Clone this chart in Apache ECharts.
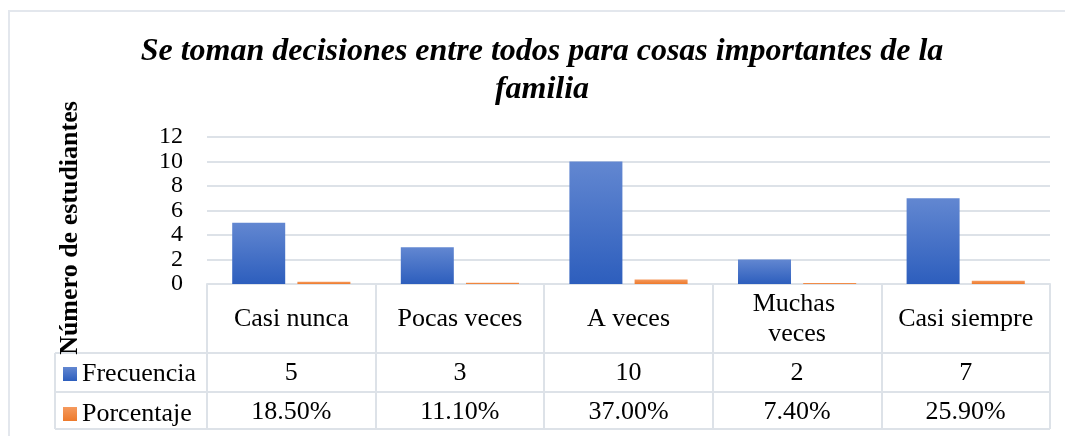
<!DOCTYPE html>
<html>
<head>
<meta charset="utf-8">
<script src="https://cdn.jsdelivr.net/npm/echarts@6/dist/echarts.min.js"></script>
<style>
  html, body { margin: 0; padding: 0; background: #fff; }
  #chart { width: 1065px; height: 436px; }
</style>
</head>
<body>
<div id="chart"></div>
<script>
// datos
const categorias = ['Casi nunca', 'Pocas veces', 'A veces', 'Muchas veces', 'Casi siempre']
const frecuencia = [5, 3, 10, 2, 7]
const porcentaje = [0.185, 0.111, 0.37, 0.074, 0.259]
const ticksY = [0, 2, 4, 6, 8, 10, 12]

const FONT = '"Liberation Serif", "Times New Roman", serif'
const LINE = '#dde2e8'

// geometria de la tabla
const gridLeft = 207, gridRight = 1050, gridTop = 137, gridBottom = 284
const tableLeft = 55
const rowLines = [353, 392, 429]

const azul = new echarts.graphic.LinearGradient(0, 0, 0, 1, [
    { offset: 0, color: '#6287d1' },
    { offset: 1, color: '#2d5ebd' }
])
const naranja = new echarts.graphic.LinearGradient(0, 0, 0, 1, [
    { offset: 0, color: '#f59a5e' },
    { offset: 1, color: '#ed7a2c' }
])

const myChart = echarts.init(document.getElementById('chart'))

const lineasTabla = rowLines.map(y => ({
    type: 'line',
    shape: { x1: tableLeft, y1: y, x2: gridRight, y2: y },
    style: { stroke: LINE, lineWidth: 2 }
}))
lineasTabla.push({
    type: 'line',
    shape: { x1: tableLeft, y1: rowLines[0], x2: tableLeft, y2: rowLines[2] },
    style: { stroke: LINE, lineWidth: 2 }
})
// marco exterior
lineasTabla.push({
    type: 'rect',
    shape: { x: 9, y: 11, width: 1100, height: 460 },
    style: { fill: null, stroke: '#e3e7ed', lineWidth: 2 },
    z: -1
})

const option = {
    animation: false,
    backgroundColor: '#fff',
    title: {
        text: 'Se toman decisiones entre todos para cosas importantes de la\nfamilia',
        left: 537,
        top: 28,
        textAlign: 'center',
        textStyle: {
            fontFamily: FONT,
            fontSize: 32,
            fontWeight: 'bold',
            fontStyle: 'italic',
            color: '#000',
            lineHeight: 38
        }
    },
    legend: {
        orient: 'vertical',
        left: 63,
        top: 361,
        padding: 0,
        itemWidth: 14,
        itemHeight: 14,
        itemGap: 14,
        icon: 'rect',
        textStyle: { fontFamily: FONT, fontSize: 26, color: '#000' },
        data: ['Frecuencia', 'Porcentaje']
    },
    grid: {
        left: gridLeft,
        right: 1065 - gridRight,
        top: gridTop,
        bottom: 436 - gridBottom,
        containLabel: false
    },
    xAxis: [
        {
            type: 'category',
            data: categorias,
            position: 'bottom',
            axisLine: { lineStyle: { color: LINE, width: 2 } },
            axisTick: { show: true, interval: 0, length: rowLines[2] - gridBottom, lineStyle: { color: LINE, width: 2 } },
            axisLabel: {
                interval: 0,
                margin: 35,
                verticalAlign: 'middle',
                fontFamily: FONT,
                fontSize: 26,
                color: '#000',
                lineHeight: 30,
                width: 140,
                overflow: 'break'
            }
        },
        {
            type: 'category',
            data: frecuencia.map(String),
            position: 'bottom',
            axisLine: { show: false },
            axisTick: { show: false },
            axisLabel: {
                interval: 0, margin: 89, verticalAlign: 'middle',
                fontFamily: FONT, fontSize: 26, color: '#000'
            }
        },
        {
            type: 'category',
            data: porcentaje.map(v => (v * 100).toFixed(2) + '%'),
            position: 'bottom',
            axisLine: { show: false },
            axisTick: { show: false },
            axisLabel: {
                interval: 0, margin: 128, verticalAlign: 'middle',
                fontFamily: FONT, fontSize: 26, color: '#000'
            }
        }
    ],
    yAxis: {
        type: 'value',
        min: ticksY[0],
        max: ticksY[ticksY.length - 1],
        interval: ticksY[1] - ticksY[0],
        name: 'Número de estudiantes',
        nameLocation: 'middle',
        nameGap: 124,
        nameRotate: 90,
        nameTextStyle: {
            fontFamily: FONT,
            fontSize: 26,
            fontWeight: 'bold',
            color: '#000',
            padding: [0, 35, 0, 0]
        },
        axisLine: { show: false },
        axisTick: { show: false },
        axisLabel: {
            fontFamily: FONT, fontSize: 24, lineHeight: 22, color: '#000', margin: 24,
            showMinLabel: true, showMaxLabel: true, hideOverlap: false
        },
        splitLine: { lineStyle: { color: LINE, width: 2 } }
    },
    series: [
        {
            name: 'Frecuencia',
            type: 'bar',
            data: frecuencia,
            barWidth: 53,
            barGap: '23%',
            itemStyle: { color: azul }
        },
        {
            name: 'Porcentaje',
            type: 'bar',
            data: porcentaje,
            barWidth: 53,
            itemStyle: { color: naranja }
        }
    ],
    graphic: lineasTabla
}

myChart.setOption(option)
</script>
</body>
</html>
